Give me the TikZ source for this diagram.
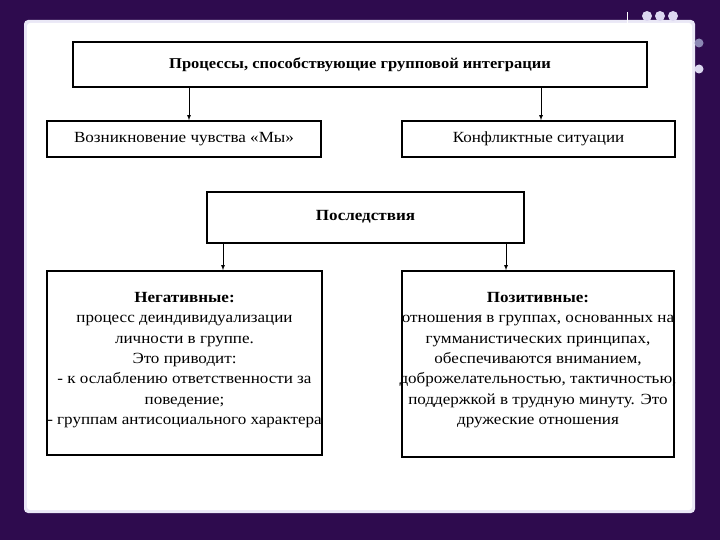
\documentclass[tikz,border=0pt]{standalone}
\usepackage{fontspec}
\setmainfont{Liberation Serif}[FakeStretch=1.1]
\usetikzlibrary{positioning}

\definecolor{slidebg}{HTML}{2E0B4E}
\definecolor{dotlight}{HTML}{DCD8F0}
\definecolor{dotgrey}{HTML}{8C88B4}

\tikzset{
  blockbox/.style={draw, line width=1.5pt, inner sep=0pt, align=center,
    font=\fontsize{15.5}{20.3}\selectfont},
  blocktext/.style={inner sep=0pt, align=center, font=\fontsize{15.5}{20.3}\selectfont},
  arrowline/.style={line width=0.8pt, arrows={-latex}}
}

\begin{document}
\begin{tikzpicture}[x=1pt, y=-1pt]
	\useasboundingbox (0,0) rectangle (720,540);
	\fill [slidebg] (0,0) rectangle (720,540);

	% slide panel with soft edge
	\fill [dotlight!60, rounded corners=4pt] (24,20) rectangle (695,513);
	\fill [white, rounded corners=3pt] (27,23) rectangle (692,510);

	% decoration
	\draw [white, line width=0.8pt] (627,12) -- (627,28);
	\foreach \x in {647, 660, 673}
		\fill [dotlight] (\x,16) circle (5);
	\fill [dotgrey] (699,43) circle (4.5);
	\fill [dotlight] (699,69) circle (4.5);

	\node [blockbox, minimum width=574pt, minimum height=45pt] (title) at (360,64.5)
		{\bfseries\fontsize{15}{18}\selectfont Процессы, способствующие групповой интеграции};
	\node [blockbox, minimum width=274pt, minimum height=36pt] (we) at (184,139)
		{Возникновение чувства «Мы»};
	\node [blockbox, minimum width=273pt, minimum height=36pt] (conf) at (538.5,139)
		{Конфликтные ситуации};
	\node [blockbox, minimum width=317pt, minimum height=51pt] (cons) at (365.5,217.5)
		{\raisebox{4pt}{\bfseries Последствия}};
	\node [blockbox, minimum width=275pt, minimum height=184pt] (neg) at (184.5,363) {};
	\node [blockbox, minimum width=272pt, minimum height=186pt] (pos) at (538,364) {};

	\node [blocktext] (negText) at ([yshift=3pt]neg.center)
		{\textbf{Негативные:}\\процесс деиндивидуализации\\личности в группе.\\Это приводит:\\- к ослаблению ответственности за\\поведение;\\- группам антисоциального характера};
	\node [blocktext] (posText) at ([yshift=4pt]pos.center)
		{\textbf{Позитивные:}\\отношения в группах, основанных на\\гумманистических принципах,\\обеспечиваются вниманием,\\доброжелательностью, тактичностью,\\поддержкой в трудную минуту. Это\\дружеские отношения};

	\coordinate (negIn) at (223,0);
	\coordinate (posIn) at (506,0);

	\draw [arrowline] ([xshift=5pt]we.north |- title.south) -- ([xshift=5pt]we.north);
	\draw [arrowline] ([xshift=2.5pt]conf.north |- title.south) -- ([xshift=2.5pt]conf.north);
	\draw [arrowline] (negIn |- cons.south) -- (negIn |- neg.north);
	\draw [arrowline] (posIn |- cons.south) -- (posIn |- pos.north);
\end{tikzpicture}
\end{document}
